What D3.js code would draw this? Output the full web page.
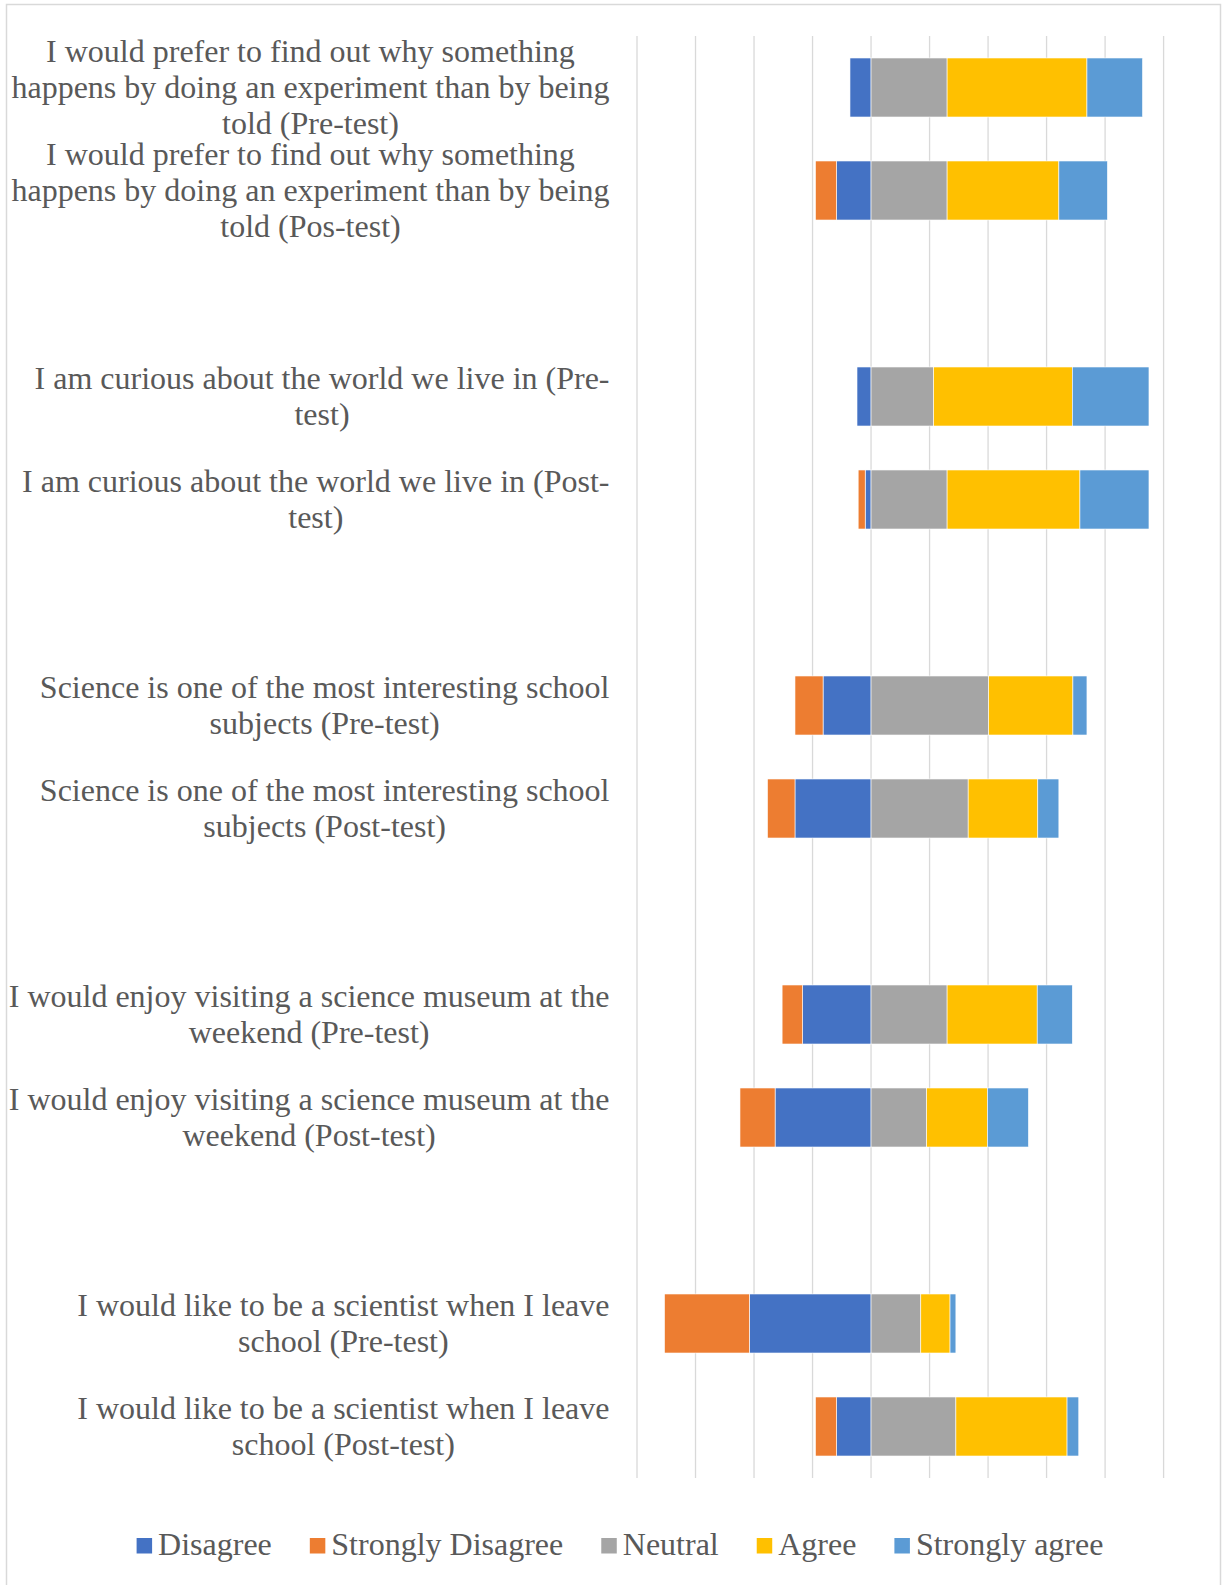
<!DOCTYPE html>
<meta charset="utf-8">
<title>Attitudes to science, pre and post test</title>
<style>
  body { margin: 0; background-color: #fff; }
  text { font-family: "Liberation Serif", "Times New Roman", serif; fill: #595959; }
</style>
<body>
<script src="https://cdn.jsdelivr.net/npm/d3@7"></script>
<script>

// one entry per bar, top to bottom (values are % of responses)
const labels = [
  "I would prefer to find out why something happens by doing an experiment than by being told (Pre-test)",
  "I would prefer to find out why something happens by doing an experiment than by being told (Pos-test)",
  "I am curious about the world we live in (Pre-test)",
  "I am curious about the world we live in (Post-test)",
  "Science is one of the most interesting school subjects (Pre-test)",
  "Science is one of the most interesting school subjects (Post-test)",
  "I would enjoy visiting a science museum at the weekend (Pre-test)",
  "I would enjoy visiting a science museum at the weekend (Post-test)",
  "I would like to be a scientist when I leave school (Pre-test)",
  "I would like to be a scientist when I leave school (Post-test)"
];
const disagree         = [3.6, 5.9, 2.4, 1.0, 8.2, 13.0, 11.7, 16.4, 20.8, 5.9];
const stronglyDisagree = [0,   3.6, 0,   1.2, 4.8, 4.7,  3.5,  6.0,  14.5, 3.6];
const neutral          = [13.0, 13.0, 10.7, 13.0, 20.1, 16.6, 13.0, 9.5, 8.5, 14.5];
const agree            = [23.9, 19.1, 23.7, 22.7, 14.4, 11.9, 15.4, 10.4, 5.0, 19.0];
const stronglyAgree    = [9.5, 8.3, 13.1, 11.8, 2.4, 3.6, 6.0, 7.0, 1.0, 2.0];

const seriesNames = ["Disagree", "Strongly Disagree", "Neutral", "Agree", "Strongly agree"];
const colors = ["#4472C4", "#ED7D31", "#A5A5A5", "#FFC000", "#5B9BD5"];
const gridTicks = [-40, -30, -20, -10, 0, 10, 20, 30, 40, 50];

var width = 1225,
  height = 1585,
  plotTop = 36,
  plotBottom = 1478,
  labelRight = 609.5,
  wrapWidth = 610,
  lineHeight = 36;

// disagree sides are negative so the stack diverges from zero
const table = labels.map((l, i) => ({
  label: l,
  "Disagree": -disagree[i],
  "Strongly Disagree": -stronglyDisagree[i],
  "Neutral": neutral[i],
  "Agree": agree[i],
  "Strongly agree": stronglyAgree[i]
}));

// rows on the category axis: pre, post, blank, pre, post, blank ...
var rowKeys = [];
labels.forEach((l, i) => {
  rowKeys.push(l);
  if (i % 2 == 1 && i < labels.length - 1) rowKeys.push("blank" + i);
});

const x = d3.scaleLinear().domain([-40, 50]).range([637, 1163.6]);
const y = d3.scaleBand().domain(rowKeys).range([plotTop, plotBottom])
    .paddingInner(0.427).paddingOuter(0.2135);

var svg = d3.select("body").append("svg")
    .attr("width", width)
    .attr("height", height);

// chart frame
svg.append("rect")
    .attr("x", 6.5).attr("y", 4.5)
    .attr("width", 1214).attr("height", 1620)
    .style("fill", "#fff")
    .style("stroke", "#d9d9d9")
    .style("stroke-width", 1.5);

// vertical gridlines
svg.append("g").selectAll("line")
    .data(gridTicks)
  .enter().append("line")
    .attr("x1", d => x(d)).attr("x2", d => x(d))
    .attr("y1", plotTop).attr("y2", plotBottom)
    .style("stroke", "#d9d9d9")
    .style("stroke-width", 1.3);

const stack = d3.stack().keys(seriesNames).offset(d3.stackOffsetDiverging);
const series = stack(table);

svg.append("g").selectAll("g")
    .data(series)
  .enter().append("g")
    .style("fill", (d, i) => colors[i])
  .selectAll("rect")
    .data(d => d)
  .enter().append("rect")
    .attr("x", d => x(Math.min(d[0], d[1])))
    .attr("width", d => Math.abs(x(d[1]) - x(d[0])))
    .attr("y", d => y(d.data.label))
    .attr("height", y.bandwidth())
    .style("stroke", "#fff")
    .style("stroke-width", 0.6);

// category labels, wrapped like the spreadsheet axis (breaks at spaces and hyphens)
var measurer = svg.append("text").style("font-size", "32px");
const measure = s => { measurer.text(s); return measurer.node().getComputedTextLength(); };

const wrap = function(text) {
  var pieces = [];
  text.split(" ").forEach((w, wi) => {
    w.split(/(?<=-)/).forEach((p, pi) => pieces.push({ s: p, sp: wi > 0 && pi == 0 }));
  });
  var lines = [], cur = "";
  pieces.forEach(p => {
    var trial = cur + (p.sp && cur ? " " : "") + p.s;
    if (cur && measure(trial) > wrapWidth) { lines.push(cur); cur = p.s; }
    else cur = trial;
  });
  lines.push(cur);
  return lines;
};

labels.forEach(l => {
  var lines = wrap(l);
  var maxW = d3.max(lines, measure);
  var cy = y(l) + y.bandwidth() / 2;
  svg.append("text")
      .attr("text-anchor", "middle")
      .style("font-size", "32px")
    .selectAll("tspan")
      .data(lines)
    .enter().append("tspan")
      .attr("x", labelRight - maxW / 2)
      .attr("y", (d, i) => cy + (i - (lines.length - 1) / 2) * lineHeight + 10.5)
      .text(d => d);
});

// legend
var itemWidths = seriesNames.map(n => 21.5 + measure(n));
var legendWidth = d3.sum(itemWidths) + 38 * (seriesNames.length - 1);
var lx = 620 - legendWidth / 2;
measurer.remove();

var legend = svg.append("g");
seriesNames.forEach((n, i) => {
  legend.append("rect")
      .attr("x", lx).attr("y", 1538)
      .attr("width", 15.5).attr("height", 15.5)
      .style("fill", colors[i]);
  legend.append("text")
      .attr("x", lx + 21.5).attr("y", 1555)
      .style("font-size", "32px")
      .text(n);
  lx += itemWidths[i] + 38;
});

</script>
